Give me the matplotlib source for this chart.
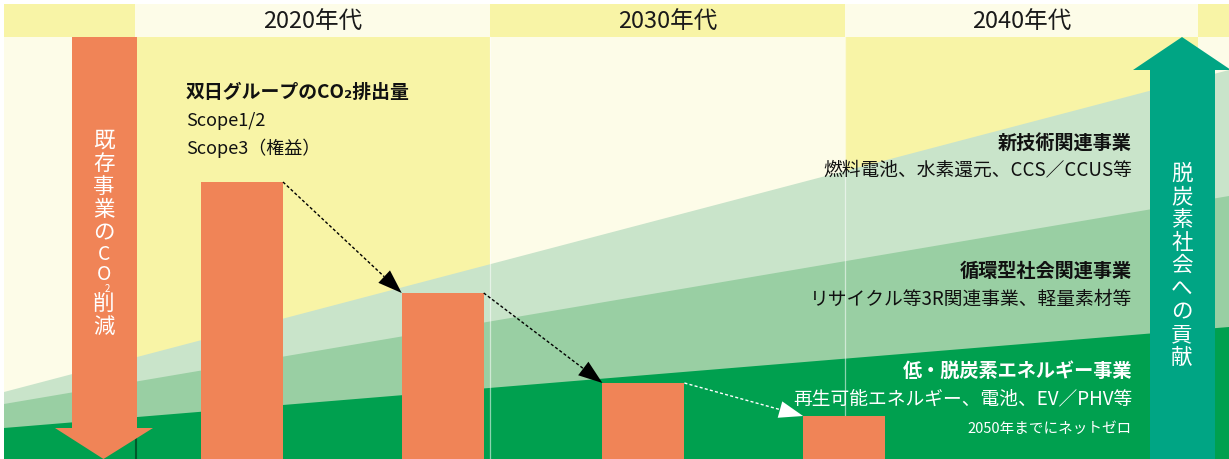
import math
import matplotlib
matplotlib.use('Agg')
import matplotlib.pyplot as plt
from matplotlib.patches import Polygon, Rectangle

plt.rcParams['font.family'] = ['Noto Sans CJK JP', 'DejaVu Sans']

# ---------------- data ----------------
decades = ['2020年代', '2030年代', '2040年代']
# CO2 emission bars (relative height units)
bar_values = [277, 166, 76, 43]
# business bands: (height at left edge, height at right edge)
band_names = ['新技術関連事業', '循環型社会関連事業', '低・脱炭素エネルギー事業']
band_details = ['燃料電池、水素還元、CCS／CCUS等',
                'リサイクル等3R関連事業、軽量素材等',
                '再生可能エネルギー、電池、EV／PHV等']
band_left = [67, 55, 31]
band_right = [389, 263, 132]
title_lines = ['双日グループのCO₂排出量', 'Scope1/2', 'Scope3（権益）']
left_arrow_text = ['既', '存', '事', '業', 'の', 'C', 'O', '2', '削', '減']
right_arrow_text = list('脱炭素社会への貢献')
netzero_text = '2050年までにネットゼロ'

# ---------------- styles ----------------
W, H = 1229, 459
YELLOW = '#F8F4A6'
CREAM = '#FDFCE8'
ORANGE = '#F08457'
DARK_G = '#00A04F'
MID_G = '#99CFA3'
LIGHT_G = '#C9E4CA'
TEAL = '#00A584'

fig = plt.figure(figsize=(W / 100, H / 100), dpi=100)
ax = fig.add_axes([0, 0, 1, 1])
ax.set_xlim(0, W)
ax.set_ylim(0, H)
ax.axis('off')


def Y(y):
    return H - y


# column backgrounds + header
bounds = [4, 135, 490, 845, 1198, 1240]
for i in range(len(bounds) - 1):
    x0, x1 = bounds[i], bounds[i + 1]
    hc = YELLOW if i % 2 == 0 else CREAM
    bc = CREAM if i % 2 == 0 else YELLOW
    ax.add_patch(Rectangle((x0, Y(37)), x1 - x0, 33, color=hc, lw=0, zorder=1))
    ax.add_patch(Rectangle((x0, 0), x1 - x0, Y(37), color=bc, lw=0, zorder=1))

for i, d in enumerate(decades):
    xc = (bounds[i + 1] + bounds[i + 2]) / 2
    ax.text(xc, Y(21), d, ha='center', va='center', fontsize=17,
            color='#1a1a1a', zorder=10)

# green bands
xl, xr = 4, W
for col, l, r in zip([LIGHT_G, MID_G, DARK_G], band_left, band_right):
    ax.add_patch(Polygon([(xl, 0), (xl, l), (xr, r), (xr, 0)], closed=True,
                         color=col, lw=0, zorder=2))

# thin column separators
for xb in [490, 845]:
    ax.plot([xb, xb], [0, Y(37)], color='white', lw=0.9, alpha=0.55, zorder=3)
ax.plot([136, 136], [0, Y(439)], color='#00592B', lw=1.5, zorder=3)

# bars
bar_w = 82
bar_x = [242 + i * 200.7 for i in range(len(bar_values))]
ax.bar(bar_x, bar_values, width=bar_w, bottom=0, color=ORANGE, lw=0, zorder=4)


def dashed_arrow(p0, p1, color):
    dx, dy = p1[0] - p0[0], p1[1] - p0[1]
    L = math.hypot(dx, dy)
    ux, uy = dx / L, dy / L
    hl, hw = 24, 8.5
    bx, by = p1[0] - ux * hl, p1[1] - uy * hl
    ax.plot([p0[0], bx], [p0[1], by], color=color, lw=1.0,
            ls=(0, (2.2, 1.6)), zorder=6)
    px, py = -uy, ux
    ax.add_patch(Polygon([(p1[0], p1[1]), (bx + px * hw, by + py * hw),
                          (bx - px * hw, by - py * hw)], closed=True,
                         color=color, lw=0, zorder=6))


arrow_cols = ['black', 'black', 'white']
for i in range(len(bar_values) - 1):
    p0 = (bar_x[i] + bar_w / 2, bar_values[i])
    p1 = (bar_x[i + 1] - bar_w / 2, bar_values[i + 1])
    dashed_arrow(p0, p1, arrow_cols[i])

# left orange arrow
ax.add_patch(Polygon([(72, Y(37)), (137, Y(37)), (137, Y(428)), (153, Y(428)),
                      (103.5, Y(459)), (55, Y(428)), (72, Y(428))],
                     closed=True, color=ORANGE, lw=0, zorder=5))
# right teal arrow
ax.add_patch(Polygon([(1150, 0), (1215, 0), (1215, Y(70)), (1231, Y(70)),
                      (1182, Y(37)), (1133, Y(70)), (1150, Y(70))],
                     closed=True, color=TEAL, lw=0, zorder=5))

# vertical texts
left_centers = [141, 164, 187, 210, 233.5, 255, 274, 289, 305, 327]
for ch, yc in zip(left_arrow_text, left_centers):
    if ch == '2':
        ax.text(107, Y(yc), ch, ha='center', va='center', fontsize=7,
                color='white', zorder=10)
    elif ch in 'CO':
        ax.text(104, Y(yc), ch, ha='center', va='center', fontsize=14,
                color='white', zorder=10)
    else:
        ax.text(104, Y(yc), ch, ha='center', va='center', fontsize=15.5,
                color='white', zorder=10)

y = 174
for ch in right_arrow_text:
    ax.text(1182, Y(y), ch, ha='center', va='center', fontsize=15.5,
            color='white', zorder=10)
    y += 23

# title block
tx = 186
ax.text(tx, Y(93), title_lines[0], ha='left', va='center', fontsize=13.6,
        fontweight='bold', color='#111111', zorder=10)
ax.text(tx, Y(121), title_lines[1], ha='left', va='center', fontsize=13,
        color='#111111', zorder=10)
ax.text(tx, Y(148), title_lines[2], ha='left', va='center', fontsize=13,
        color='#111111', zorder=10)

# band labels
rx = 1132
name_y = [143, 271, 371]
det_y = [170, 299, 399]
txt_cols = ['#111111', '#111111', 'white']
for n, d, ny, dy, c in zip(band_names, band_details, name_y, det_y, txt_cols):
    ax.text(rx, Y(ny), n, ha='right', va='center', fontsize=13.8,
            fontweight='bold', color=c, zorder=10)
    ax.text(rx, Y(dy), d, ha='right', va='center', fontsize=13.5,
            color=c, zorder=10)
ax.text(rx, Y(429), netzero_text, ha='right', va='center', fontsize=10.5,
        color='white', zorder=10)

fig.savefig('out.png', dpi=100, facecolor='white')
